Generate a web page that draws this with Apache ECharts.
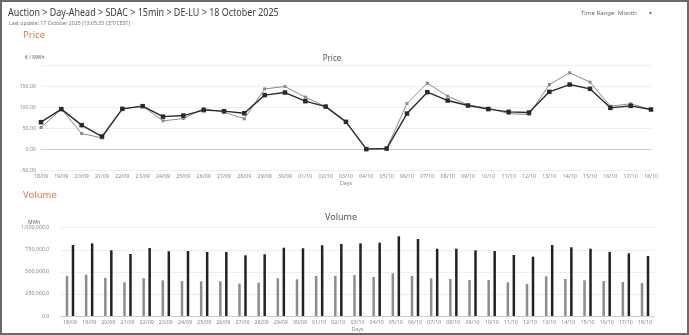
<!DOCTYPE html>
<html><head><meta charset="utf-8">
<script src="https://cdn.jsdelivr.net/npm/echarts@6/dist/echarts.min.js"></script>
<style>html,body{margin:0;padding:0;background:#fff}#c{width:689px;height:335px}</style>
</head><body><div id="c"></div>
<script>
const days = ['18/09','19/09','20/09','21/09','22/09','23/09','24/09','25/09','26/09','27/09','28/09','29/09','30/09','01/10','02/10','03/10','04/10','05/10','06/10','07/10','08/10','09/10','10/10','11/10','12/10','13/10','14/10','15/10','16/10','17/10','18/10'];
const priceDark = [64.7,95.9,57.5,30.2,96.6,103,78,80.5,93.5,91,86,129.5,135.7,115,102,65.4,0,1.4,85.3,136.6,116.5,104.5,96,89.4,87.7,137.3,154.8,144.5,99,103.8,95];
const priceLight = [51.8,95.9,37.4,27,96.6,103,67.8,73.3,97.3,88.7,72.6,144.5,150,124.6,102,65.4,0,1.4,109.3,158.2,127,106,98.3,85.3,83,154.8,183,160.6,103,108.6,95];
const volLight = [453000,468000,430000,382000,427000,404000,396000,393000,393000,366000,377000,427000,416000,453000,453000,464000,442000,484000,453000,427000,419000,408000,408000,382000,362000,450000,419000,404000,396000,385000,374000];
const volDark = [804000,823000,744000,702000,770000,733000,736000,725000,725000,687000,699000,773000,767000,801000,815000,823000,830000,903000,872000,762000,762000,744000,736000,691000,672000,804000,778000,762000,725000,710000,680000];
const priceTicks = {min:-50, max:200, interval:50};
const volTicks = {min:0, max:1000000, interval:250000};

const FONT = 'Noto Sans';
const chart = echarts.init(document.getElementById('c'), null, {renderer:'canvas'});
function fmtNum(v, d){
  return v.toLocaleString('en-US',{minimumFractionDigits:d,maximumFractionDigits:d});
}
const axisLabelStyle = {fontSize:5.3, color:'#888', fontFamily:FONT};
chart.setOption({
  animation:false,
  textStyle:{fontFamily:FONT},
  title:[
    {text:'Price', left:327, top:50, textAlign:'center', textStyle:{fontSize:8, color:'#555', fontWeight:'normal', fontFamily:FONT}},
    {text:'Volume', left:336, top:208, textAlign:'center', textStyle:{fontSize:9, color:'#555', fontWeight:'normal', fontFamily:FONT}}
  ],
  grid:[
    {left:41, right:38, top:65.7, bottom:165},
    {left:60.4, right:34.4, top:227.7, bottom:19}
  ],
  xAxis:[
    {type:'category', gridIndex:0, data:days, boundaryGap:false,
     name:'Days', nameLocation:'middle', nameGap:11, nameTextStyle:{fontSize:5.3,color:'#888',fontFamily:FONT},
     axisLine:{lineStyle:{color:'#ccc'}}, axisTick:{show:false},
     axisLabel:Object.assign({interval:0, margin:4}, axisLabelStyle)},
    {type:'category', gridIndex:1, data:days, boundaryGap:true,
     name:'Days', nameLocation:'middle', nameGap:11, nameTextStyle:{fontSize:5.3,color:'#888',fontFamily:FONT},
     axisLine:{lineStyle:{color:'#ccc'}}, axisTick:{show:false},
     axisLabel:Object.assign({interval:0, margin:4}, axisLabelStyle)}
  ],
  yAxis:[
    {type:'value', gridIndex:0, min:priceTicks.min, max:priceTicks.max, interval:priceTicks.interval,
     axisLine:{show:false}, axisTick:{show:false},
     splitLine:{lineStyle:{color:'#eee', width:1}},
     axisLabel:Object.assign({margin:5, formatter:v=> v===priceTicks.max ? '' : fmtNum(v,2)}, axisLabelStyle)},
    {type:'value', gridIndex:1, min:volTicks.min, max:volTicks.max, interval:volTicks.interval,
     axisLine:{show:false}, axisTick:{show:false},
     splitLine:{lineStyle:{color:'#eee', width:1}},
     axisLabel:Object.assign({margin:11, formatter:v=> fmtNum(v,1)}, axisLabelStyle)}
  ],
  series:[
    {type:'line', xAxisIndex:0, yAxisIndex:0, data:priceLight, symbol:'rect', symbolSize:3,
     lineStyle:{color:'#8a8a8a', width:1}, itemStyle:{color:'#8a8a8a'}},
    {type:'line', xAxisIndex:0, yAxisIndex:0, data:priceDark, symbol:'rect', symbolSize:4.5,
     lineStyle:{color:'#2a2a2a', width:1.4}, itemStyle:{color:'#2a2a2a'}},
    {type:'bar', xAxisIndex:1, yAxisIndex:1, data:volLight, barWidth:2.5, barGap:'140%',
     itemStyle:{color:'#8c8c8c'}},
    {type:'bar', xAxisIndex:1, yAxisIndex:1, data:volDark, barWidth:2.5, barGap:'140%',
     itemStyle:{color:'#222'}}
  ],
  graphic:[
    {type:'rect', shape:{x:1, y:1, width:687, height:333}, style:{fill:'none', stroke:'#6a6a6a', lineWidth:2}, z:100},
    {type:'text', x:8, y:7, scaleX:0.8, style:{text:'Auction > Day-Ahead > SDAC > 15min > DE-LU > 18 October 2025', fontSize:11.2, fill:'#3a3a3a', fontFamily:FONT}},
    {type:'text', x:9, y:21, style:{text:'Last update: 17 October 2025 (13:05:35 CET/CEST)', fontSize:5.2, fill:'#777', fontFamily:FONT}},
    {type:'text', x:23, y:30.5, style:{text:'Price', fontSize:9.5, fill:'#e07b42', fontFamily:FONT}},
    {type:'text', x:23, y:190.5, style:{text:'Volume', fontSize:9.5, fill:'#e07b42', fontFamily:FONT}},
    {type:'text', x:25, y:55, style:{text:'€ / MWh', fontSize:5, fill:'#666', fontFamily:FONT}},
    {type:'text', x:28, y:220, style:{text:'MWh', fontSize:5, fill:'#666', fontFamily:FONT}},
    {type:'text', x:581, y:10.5, style:{text:'Time Range', fontSize:6, fill:'#666', fontFamily:FONT}},
    {type:'text', x:618, y:10.5, style:{text:'Month', fontSize:6, fill:'#666', fontFamily:FONT}},
    {type:'text', x:649, y:10, style:{text:'▾', fontSize:6, fill:'#777', fontFamily:FONT}}
  ]
});
</script></body></html>
